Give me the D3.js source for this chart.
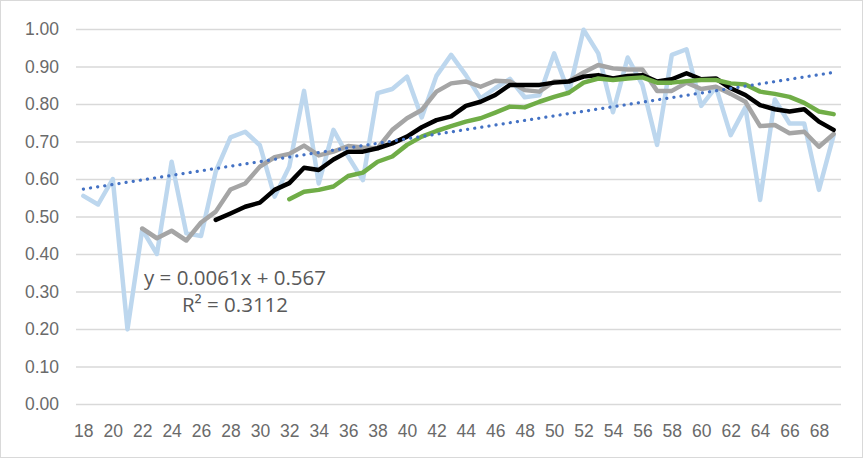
<!DOCTYPE html>
<html>
<head>
<meta charset="utf-8">
<script src="https://cdn.jsdelivr.net/npm/d3@7"></script>
<style>
  body { margin: 0; background: #fff; }
  svg { display: block; font-family: "Open Sans", sans-serif; }
</style>
</head>
<body>
<div id="chart"></div>
<script>
// Ages on the x axis
const ages = d3.range(18, 70);

// Raw values (light blue), one per age 18..69
const rawValues = [0.555, 0.532, 0.600, 0.199, 0.465, 0.400, 0.646, 0.455, 0.448, 0.620,
  0.711, 0.726, 0.690, 0.553, 0.633, 0.835, 0.588, 0.731, 0.660, 0.597,
  0.829, 0.840, 0.873, 0.764, 0.875, 0.931, 0.877, 0.815, 0.842, 0.867,
  0.818, 0.823, 0.935, 0.830, 0.998, 0.935, 0.778, 0.924, 0.851, 0.691,
  0.931, 0.946, 0.795, 0.845, 0.717, 0.791, 0.544, 0.812, 0.748, 0.748,
  0.571, 0.717];

// Gray series, ages 22..69
const grayStart = 22;
const grayValues = [0.468, 0.442, 0.462, 0.436, 0.484, 0.513, 0.572, 0.588, 0.633, 0.658,
  0.667, 0.689, 0.663, 0.673, 0.688, 0.684, 0.682, 0.731, 0.762, 0.784,
  0.833, 0.855, 0.860, 0.846, 0.862, 0.860, 0.837, 0.833, 0.860, 0.861,
  0.884, 0.904, 0.895, 0.892, 0.892, 0.835, 0.835, 0.857, 0.840, 0.846,
  0.827, 0.806, 0.741, 0.744, 0.722, 0.726, 0.686, 0.720];

// Black series, ages 27..69
const blackStart = 27;
const blackValues = [0.491, 0.508, 0.526, 0.537, 0.571, 0.589, 0.630, 0.624, 0.652, 0.673,
  0.673, 0.682, 0.695, 0.713, 0.738, 0.757, 0.767, 0.795, 0.806, 0.824,
  0.851, 0.851, 0.851, 0.857, 0.860, 0.873, 0.877, 0.868, 0.875, 0.877,
  0.860, 0.866, 0.882, 0.866, 0.868, 0.842, 0.824, 0.797, 0.786, 0.780,
  0.786, 0.753, 0.731];

// Green series, ages 32..69
const greenStart = 32;
const greenValues = [0.546, 0.566, 0.571, 0.580, 0.608, 0.617, 0.646, 0.660, 0.691, 0.713,
  0.728, 0.741, 0.753, 0.762, 0.777, 0.793, 0.791, 0.806, 0.819, 0.830,
  0.857, 0.868, 0.864, 0.868, 0.871, 0.857, 0.857, 0.861, 0.864, 0.864,
  0.855, 0.852, 0.833, 0.827, 0.819, 0.803, 0.780, 0.773];

// Linear trendline as printed on the chart (x = point index from 1)
const trendSlope = 0.0061;
const trendIntercept = 0.567;
const trendLabel = ["y = 0.0061x + 0.567", "R² = 0.3112"];

const yTicks = d3.range(0, 11).map(d => d / 10);
const xTicks = ages.filter(a => a % 2 === 0);

// Set up dimensions and margins
const totalW = 866, totalH = 459;
const margin = { top: 29, right: 25, bottom: 55, left: 76 };
const width = totalW - margin.left - margin.right;
const height = totalH - margin.top - margin.bottom;

const svgContainer = d3.select("#chart")
  .append("svg")
  .attr("width", totalW)
  .attr("height", totalH);

// Chart border
svgContainer.append("rect")
  .attr("x", 0.5).attr("y", 0.5)
  .attr("width", totalW - 4).attr("height", totalH - 2)
  .attr("fill", "#fff")
  .attr("stroke", "#d9d9d9");

const svg = svgContainer.append("g")
  .attr("transform", `translate(${margin.left},${margin.top})`);

// Scales
const x = d3.scalePoint()
  .domain(ages)
  .range([0, width])
  .padding(0.5);

const y = d3.scaleLinear()
  .domain([0, 1])
  .range([height, 0]);

// Gridlines + y labels
const yAxis = svg.append("g")
  .call(d3.axisLeft(y).tickValues(yTicks).tickFormat(d3.format(".2f"))
    .tickSize(-width).tickPadding(17));
yAxis.select(".domain").remove();
yAxis.selectAll(".tick line").attr("stroke", "#d9d9d9").attr("stroke-width", 1.3);
yAxis.selectAll(".tick text")
  .attr("fill", "#6a6a6a")
  .style("font-size", "17.5px");

// x labels
const xAxis = svg.append("g")
  .attr("transform", `translate(0,${height})`)
  .call(d3.axisBottom(x).tickValues(xTicks).tickSize(0));
xAxis.select(".domain").remove();
xAxis.selectAll(".tick text")
  .attr("y", 33).attr("dy", 0)
  .attr("fill", "#6a6a6a")
  .style("font-size", "17.5px");

// Series lines
const line = d3.line()
  .x(d => x(d.age))
  .y(d => y(d.v));

const toPoints = (start, vals) => vals.map((v, i) => ({ age: start + i, v }));

const series = [
  { pts: toPoints(ages[0], rawValues), color: "#bdd7ee" },
  { pts: toPoints(grayStart, grayValues), color: "#a5a5a5" },
  { pts: toPoints(blackStart, blackValues), color: "#000000" },
  { pts: toPoints(greenStart, greenValues), color: "#70ad47" }
];

svg.selectAll(".series")
  .data(series)
  .enter()
  .append("path")
  .attr("class", "series")
  .attr("d", d => line(d.pts))
  .attr("fill", "none")
  .attr("stroke", d => d.color)
  .attr("stroke-width", 4.5)
  .attr("stroke-linejoin", "round")
  .attr("stroke-linecap", "round");

// Trendline (dotted)
const n = ages.length;
const trendPts = [
  { age: ages[0], v: trendIntercept + trendSlope * 1 },
  { age: ages[n - 1], v: trendIntercept + trendSlope * n }
];
svg.append("path")
  .attr("d", line(trendPts))
  .attr("fill", "none")
  .attr("stroke", "#4472c4")
  .attr("stroke-width", 3.2)
  .attr("stroke-linecap", "round")
  .attr("stroke-dasharray", "0.1 7.1");

// Trendline label
const lbl = svgContainer.append("text")
  .attr("x", 235)
  .attr("y", 285)
  .attr("text-anchor", "middle")
  .attr("fill", "#595959")
  .style("font-size", "20.5px");
lbl.selectAll("tspan")
  .data(trendLabel)
  .enter()
  .append("tspan")
  .attr("x", 235)
  .attr("dy", (d, i) => i === 0 ? 0 : 27)
  .text(d => d);
</script>
</body>
</html>
